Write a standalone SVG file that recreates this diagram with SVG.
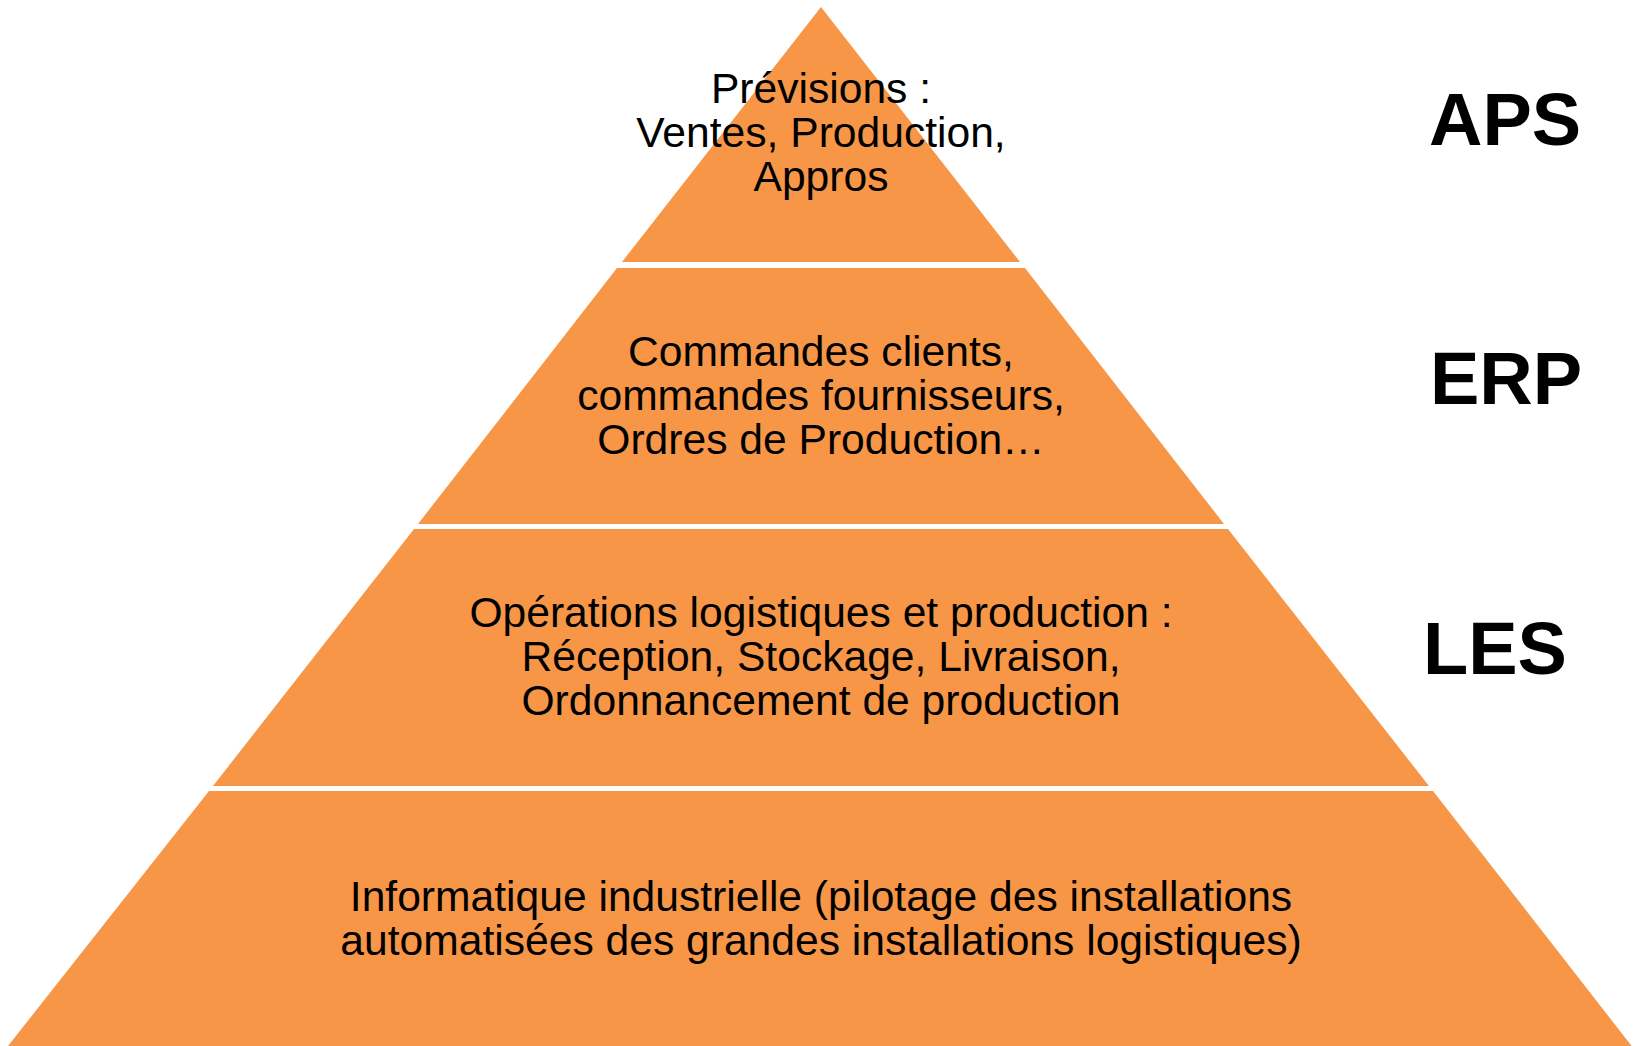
<svg xmlns="http://www.w3.org/2000/svg" width="1634" height="1046" viewBox="0 0 1634 1046">
<style>
.band{fill:#F79646;}
.t{font-family:"Liberation Sans",Arial,sans-serif;font-size:42.6px;fill:#000;text-anchor:middle;}
.lbl{font-family:"Liberation Sans",Arial,sans-serif;font-size:74px;font-weight:bold;fill:#000;}
</style>
<rect width="1634" height="1046" fill="#fff"/>
<g id="connectors"/>
<g id="band-aps">
<polygon class="band" points="821,7 1020,262 622,262"/>
<text class="t" x="821" y="103">Prévisions :</text>
<text class="t" x="821" y="147">Ventes, Production,</text>
<text class="t" x="821" y="191">Appros</text>
</g>
<g id="band-erp">
<polygon class="band" points="617,268 1025,268 1224,524 418,524"/>
<text class="t" x="821" y="366">Commandes clients,</text>
<text class="t" x="821" y="410">commandes fournisseurs,</text>
<text class="t" x="821" y="454">Ordres de Production…</text>
</g>
<g id="band-les">
<polygon class="band" points="414,529 1228,529 1429,786 213,786"/>
<text class="t" x="821" y="627">Opérations logistiques et production :</text>
<text class="t" x="821" y="671">Réception, Stockage, Livraison,</text>
<text class="t" x="821" y="715">Ordonnancement de production</text>
</g>
<g id="band-industrial">
<polygon class="band" points="209,791 1433,791 1634,1049 1634,1046 8,1046"/>
<text class="t" x="821" y="911">Informatique industrielle (pilotage des installations</text>
<text class="t" x="821" y="955">automatisées des grandes installations logistiques)</text>
</g>
<g id="label-aps"><text class="lbl" x="1429" y="145">APS</text></g>
<g id="label-erp"><text class="lbl" x="1430" y="404">ERP</text></g>
<g id="label-les"><text class="lbl" x="1423" y="674">LES</text></g>
</svg>
